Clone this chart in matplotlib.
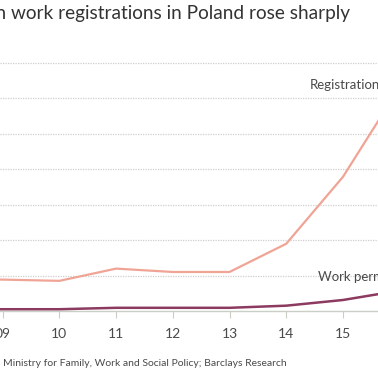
# Foreign work registrations in Poland - recreated line chart
import matplotlib.pyplot as plt

# Data (thousands)
years = [2008, 2009, 2010, 2011, 2012, 2013, 2014, 2015, 2016]
registrations = [180, 177, 170, 239, 220, 220, 379, 756, 1262]
work_permits = [10, 10, 10, 18, 18, 18, 30, 62, 115]
tick_years = [2009, 2010, 2011, 2012, 2013, 2014, 2015]
tick_labels = ["09", "10", "11", "12", "13", "14", "15"]

plt.rcParams['font.family'] = ['Lato', 'DejaVu Sans']
text_col = "#4a4a4a"

W, H = 378, 370
fig = plt.figure(figsize=(W / 100, H / 100), dpi=100)
fig.patch.set_facecolor("white")

# axes in pixel terms: x=2009 at 2.7px, 56.7px per year; y=0 at 311px, 1400 at 62.7px
px_year = 56.7
x_left = 2009 - 2.7 / px_year
x_right = 2009 + (W - 2.7) / px_year
y0_px, ytop_px = 311, 62.7
ax = fig.add_axes([0, (H - y0_px) / H, 1, (y0_px - ytop_px) / H])
ax.set_xlim(x_left, x_right)
ax.set_ylim(0, 1400)

ax.plot(years, registrations, color="#f0a496", lw=1.6, solid_capstyle="round", zorder=3)
ax.plot(years, work_permits, color="#8c3a5f", lw=1.8, solid_capstyle="round", zorder=3)

# dotted gridlines
for v in range(200, 1401, 200):
    ax.axhline(v, color="#cfcfcf", lw=0.9, ls=(0, (1, 1)), zorder=1, clip_on=False)

for s in ["top", "right", "left"]:
    ax.spines[s].set_visible(False)
ax.spines["bottom"].set_color("#c9cfc6")
ax.spines["bottom"].set_linewidth(1.0)
ax.set_xticks(tick_years)
ax.set_xticklabels(tick_labels)
ax.set_yticks([])
ax.tick_params(axis="x", length=5, width=0.8, color="#c9cfc6", pad=7,
               labelsize=10, labelcolor=text_col)

# series labels (cut by the right edge, as in the original crop)
ax.text(2009 + (310 - 2.7) / px_year, 1400 * (y0_px - 85) / (y0_px - ytop_px),
        "Registrations", color=text_col, fontsize=9.5, va="center", ha="left")
ax.text(2009 + (318 - 2.7) / px_year, 1400 * (y0_px - 277) / (y0_px - ytop_px),
        "Work permits", color=text_col, fontsize=9.5, va="center", ha="left")

fig.text(350 / W, 1 - 14 / H, "Ukrainian work registrations in Poland rose sharply",
         color="#333333", fontsize=13.7, ha="right", va="center")
fig.text(3 / W, 1 - 364 / H, "Ministry for Family, Work and Social Policy; Barclays Research",
         color=text_col, fontsize=7.5, ha="left", va="center")

fig.savefig("out.png", dpi=100)
